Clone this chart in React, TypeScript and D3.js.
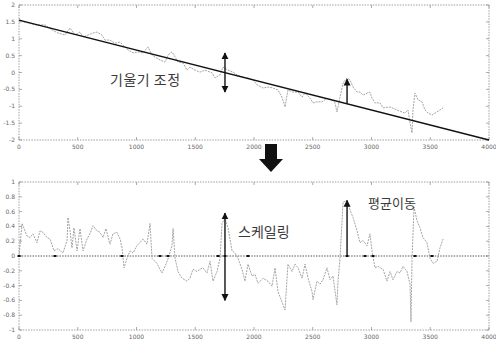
import * as d3 from "d3";

// x ticks shared by both panels
const xTicks = [0, 500, 1000, 1500, 2000, 2500, 3000, 3500, 4000];
const topYTicks = [2, 1.5, 1, 0.5, 0, -0.5, -1, -1.5, -2];
const botYTicks = [1, 0.8, 0.6, 0.4, 0.2, 0, -0.2, -0.4, -0.6, -0.8, -1];

// original signal (upper panel)
const topX = [0, 34, 77, 136, 221, 281, 332, 392, 434, 477, 519, 545, 587, 630, 664, 706, 732, 774, 817, 860, 885, 928, 970, 1013, 1055, 1098, 1132, 1157, 1200, 1243, 1268, 1302, 1328, 1353, 1396, 1430, 1455, 1498, 1540, 1583, 1643, 1668, 1711, 1736, 1779, 1821, 1855, 1898, 1949, 1992, 2026, 2077, 2119, 2162, 2204, 2238, 2264, 2289, 2332, 2375, 2409, 2434, 2477, 2502, 2536, 2579, 2621, 2664, 2689, 2706, 2732, 2758, 2792, 2817, 2843, 2877, 2902, 2928, 2962, 2987, 3004, 3030, 3072, 3098, 3158, 3217, 3260, 3285, 3311, 3328, 3345, 3353, 3370, 3396, 3430, 3455, 3481, 3515, 3541, 3583, 3609];
const topY = [1.61, 1.5, 1.47, 1.41, 1.41, 1.26, 1.17, 1.11, 1.32, 1.11, 1.2, 1.05, 1.11, 1.17, 1.2, 1.11, 0.96, 0.96, 0.87, 0.9, 0.81, 0.67, 0.58, 0.61, 0.58, 0.76, 0.52, 0.46, 0.37, 0.31, 0.52, 0.61, 0.46, 0.31, 0.28, 0.07, 0.16, 0.07, 0.01, 0.07, -0.01, -0.16, -0.07, 0.16, 0.07, 0.01, -0.07, -0.13, -0.16, -0.22, -0.37, -0.46, -0.43, -0.46, -0.52, -0.73, -1.02, -0.52, -0.58, -0.58, -0.73, -0.61, -0.76, -0.9, -0.87, -0.87, -0.76, -0.81, -0.9, -1.17, -0.73, -0.31, -0.16, -0.22, -0.43, -0.58, -0.58, -0.67, -0.61, -0.58, -0.76, -0.9, -0.9, -1.05, -1.02, -1.11, -1.17, -1.2, -1.11, -1.5, -1.79, -1.11, -0.61, -0.81, -0.87, -1.11, -1.2, -1.26, -1.2, -1.11, -1.05];

// fitted slope line (upper panel)
const trendX = [0, 4000];
const trendY = [1.55, -2.0];

// detrended + scaled signal (lower panel)
const botX = [0, 26, 68, 94, 119, 153, 179, 204, 238, 264, 298, 332, 374, 409, 417, 434, 451, 468, 494, 519, 545, 579, 604, 630, 664, 689, 715, 740, 774, 800, 834, 860, 877, 894, 919, 945, 970, 1004, 1030, 1055, 1089, 1115, 1132, 1174, 1217, 1243, 1268, 1302, 1311, 1328, 1353, 1387, 1430, 1455, 1481, 1515, 1540, 1566, 1600, 1626, 1651, 1685, 1711, 1728, 1753, 1779, 1813, 1838, 1864, 1898, 1923, 1949, 1983, 2009, 2034, 2077, 2119, 2153, 2179, 2204, 2238, 2264, 2289, 2323, 2349, 2375, 2409, 2434, 2460, 2494, 2502, 2536, 2562, 2587, 2621, 2647, 2672, 2706, 2715, 2732, 2758, 2792, 2817, 2843, 2877, 2902, 2928, 2962, 2987, 3004, 3030, 3055, 3098, 3132, 3158, 3183, 3217, 3243, 3268, 3302, 3328, 3336, 3345, 3362, 3387, 3413, 3438, 3472, 3498, 3524, 3558, 3583, 3609];
const botY = [0, 0.44, 0.27, 0.25, 0.3, 0.18, 0.34, 0.32, 0.25, 0.23, 0.07, 0.1, 0.04, 0.21, 0.52, 0.34, 0.11, 0.38, 0.07, 0.37, 0.07, 0.23, 0.3, 0.41, 0.34, 0.32, 0.25, 0.37, 0.16, 0.3, 0.32, 0.23, 0.11, -0.16, -0.03, 0.07, 0.04, 0.14, 0.18, 0.23, 0.16, 0.44, -0.03, -0.1, -0.23, -0.14, -0.04, 0.14, 0.37, -0.03, -0.21, -0.3, -0.34, -0.3, -0.18, -0.21, -0.18, -0.16, -0.23, -0.07, -0.34, -0.21, -0.03, 0.44, 0.51, 0.38, 0.07, 0.04, -0.03, -0.18, -0.34, -0.11, -0.27, -0.25, -0.37, -0.3, -0.34, -0.41, -0.16, -0.48, -0.62, -0.73, -0.11, -0.21, -0.11, -0.16, -0.3, -0.11, -0.3, -0.48, -0.59, -0.34, -0.38, -0.32, -0.16, -0.32, -0.27, -0.66, -0.34, -0.03, 0.73, 0.75, 0.62, 0.52, 0.34, 0.18, 0.21, 0.14, 0.3, 0.07, -0.16, -0.14, -0.18, -0.34, -0.21, -0.32, -0.21, -0.23, -0.14, -0.21, -0.38, -0.89, -0.03, 0.66, 0.48, 0.38, 0.25, 0.18, -0.03, -0.1, -0.07, 0.11, 0.23];

// segment markers on the zero line
const segX = [0, 306, 876, 1200, 1268, 1694, 1753, 1949, 2792, 2945, 3013, 3370, 3515];

const W = 496;
const H = 341;

export default function App() {
  const x = d3.scaleLinear().domain([0, 4000]).range([19, 489]);
  const yT = d3.scaleLinear().domain([-2, 2]).range([140, 5]);
  const yB = d3.scaleLinear().domain([-1, 1]).range([330, 182]);

  const topLine = d3.line<number>().x((d, i) => x(topX[i])).y((d) => yT(d))(topY) || "";
  const trend = d3.line<number>().x((d, i) => x(trendX[i])).y((d) => yT(d))(trendY) || "";
  const botLine = d3.line<number>().x((d, i) => x(botX[i])).y((d) => yB(d))(botY) || "";
  const trendAt = d3.scaleLinear().domain(trendX).range(trendY);

  const frame = (y0: number, y1: number) => (
    <rect x={19} y={y0} width={470} height={y1 - y0} fill="none" stroke="#888" strokeWidth={0.8} strokeDasharray="1.5 1.2" />
  );
  const lbl = { fontSize: 6, fill: "#666", fontFamily: "DejaVu Sans" } as const;
  const kr = { fontFamily: "Noto Sans CJK KR", fill: "#3a3a3a", fontSize: 14 } as const;

  return (
    <svg width={W} height={H} style={{ position: "absolute", left: 0, top: 0, background: "#fff" }}>
      <defs>
        <marker id="ah" viewBox="0 0 10 10" refX="9" refY="5" markerWidth="5" markerHeight="6" orient="auto-start-reverse">
          <path d="M0,0 L10,5 L0,10 z" fill="#111" />
        </marker>
      </defs>

      {/* upper panel */}
      {frame(yT(2), yT(-2))}
      {xTicks.map((t) => (
        <g key={"tt" + t}>
          <line x1={x(t)} x2={x(t)} y1={yT(-2)} y2={yT(-2) - 3} stroke="#888" strokeWidth={0.7} />
          <line x1={x(t)} x2={x(t)} y1={yT(2)} y2={yT(2) + 3} stroke="#888" strokeWidth={0.7} />
          <text x={x(t)} y={yT(-2) + 9} textAnchor="middle" {...lbl}>{t}</text>
        </g>
      ))}
      {topYTicks.map((t) => (
        <g key={"ty" + t}>
          <line x1={19} x2={22} y1={yT(t)} y2={yT(t)} stroke="#888" strokeWidth={0.7} />
          <line x1={489} x2={486} y1={yT(t)} y2={yT(t)} stroke="#888" strokeWidth={0.7} />
          <text x={15} y={yT(t) + 2} textAnchor="end" {...lbl}>{t}</text>
        </g>
      ))}
      <path d={topLine} fill="none" stroke="#9a9a9a" strokeWidth={0.9} strokeDasharray="2 1" />
      <path d={trend} fill="none" stroke="#111" strokeWidth={1.3} />
      <text x={110} y={85} {...kr} letterSpacing={0.5}>기울기 조정</text>
      <line x1={x(1753)} x2={x(1753)} y1={yT(0.58)} y2={yT(-0.58)} stroke="#111" strokeWidth={1.4}
        markerStart="url(#ah)" markerEnd="url(#ah)" />
      <line x1={x(2792)} x2={x(2792)} y1={yT(trendAt(2792))} y2={yT(-0.2)} stroke="#111" strokeWidth={1.4} markerEnd="url(#ah)" />

      {/* big down arrow */}
      <path d="M265,144 L277,144 L277,159 L283,159 L271,172 L259,159 L265,159 z" fill="#111" />

      {/* lower panel */}
      {frame(yB(1), yB(-1))}
      {xTicks.map((t) => (
        <g key={"bt" + t}>
          <line x1={x(t)} x2={x(t)} y1={yB(-1)} y2={yB(-1) - 3} stroke="#888" strokeWidth={0.7} />
          <line x1={x(t)} x2={x(t)} y1={yB(1)} y2={yB(1) + 3} stroke="#888" strokeWidth={0.7} />
          <text x={x(t)} y={yB(-1) + 9} textAnchor="middle" {...lbl}>{t}</text>
        </g>
      ))}
      {botYTicks.map((t) => (
        <g key={"by" + t}>
          <line x1={19} x2={22} y1={yB(t)} y2={yB(t)} stroke="#888" strokeWidth={0.7} />
          <line x1={489} x2={486} y1={yB(t)} y2={yB(t)} stroke="#888" strokeWidth={0.7} />
          <text x={15} y={yB(t) + 2} textAnchor="end" {...lbl}>{t}</text>
        </g>
      ))}
      <line x1={x(0)} x2={x(4000)} y1={yB(0)} y2={yB(0)} stroke="#444" strokeWidth={0.9} strokeDasharray="1.5 1.2" />
      <path d={botLine} fill="none" stroke="#9a9a9a" strokeWidth={0.9} strokeDasharray="2 1" />
      {segX.map((s) => (
        <rect key={"s" + s} x={x(s) - 1.5} y={yB(0) - 1} width={3} height={2} fill="#111" />
      ))}
      <line x1={x(1753)} x2={x(1753)} y1={yB(0.58)} y2={yB(-0.6)} stroke="#111" strokeWidth={1.4}
        markerStart="url(#ah)" markerEnd="url(#ah)" />
      <line x1={x(2792)} x2={x(2792)} y1={yB(0)} y2={yB(0.75)} stroke="#111" strokeWidth={1.4} markerEnd="url(#ah)" />
      <text x={238} y={237} {...kr}>스케일링</text>
      <text x={368} y={208} {...kr} fontSize={13}>평균이동</text>
    </svg>
  );
}
